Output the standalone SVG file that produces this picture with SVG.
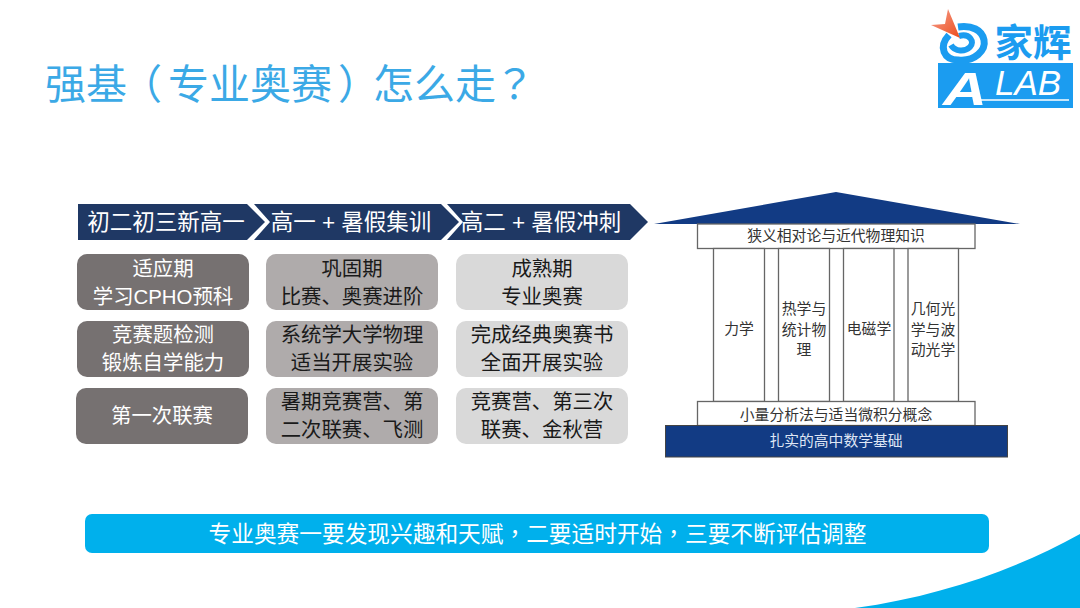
<svg xmlns="http://www.w3.org/2000/svg" width="1080" height="608" viewBox="0 0 1080 608">
<defs><linearGradient id="dart" x1="0" y1="0" x2="1" y2="1"><stop offset="0" stop-color="#f4a090"/><stop offset="1" stop-color="#ee4e1c"/></linearGradient></defs>
<style>
text{font-family:"Liberation Sans","Noto Sans CJK SC",sans-serif;text-anchor:middle}
.t{font-family:"Noto Sans CJK TC",sans-serif}
.h{font-size:22.500px;fill:#fff}
.b{font-size:20.400px}
.w{fill:#fff}.k{fill:#1a1a1a}
.d{fill:#767171}.m{fill:#afabab}.l{fill:#d9d9d9}
.s{font-size:14.800px;fill:#333}
.p{fill:#fff;stroke:#666;stroke-width:1.3}
.sw{fill:none;stroke:#1b9cf0}
</style>
<rect width="1080" height="608" fill="#fff"/>
<path d="M855 608C940 596 1015 570 1080 534V608Z" fill="#00b0ec"/>
<text x="45" y="99" style="font-size:41px;fill:#3ba9e6;text-anchor:start">强基<tspan class="t" dx="-6">（</tspan><tspan dx="6">专业奥赛</tspan><tspan class="t" dx="6">）</tspan><tspan dx="-6">怎么走</tspan><tspan class="t" dx="-2">？</tspan></text>
<g id="logo">
<path class="sw" stroke-width="7" d="M949 35C938 47 944 60 958 60C975 62 986 50 984 40C982 30 972 25 958 27"/>
<path class="sw" stroke-width="6" d="M959 36C970 33 975 42 970 47C965 52 955 52 951 45"/>
<path d="M948 9L960 38L931 25L945 24Z" fill="url(#dart)"/>
<rect x="938" y="63" width="135" height="45" fill="#1b9cf0"/>
<text x="1033" y="56" style="font-size:38px;fill:#1b9cf0;font-weight:700" textLength="77" lengthAdjust="spacingAndGlyphs">家辉</text>
<text x="965" y="105" style="font-size:47px;fill:#fff;font-style:italic;font-weight:700" textLength="44" lengthAdjust="spacingAndGlyphs">A</text>
<text x="1028" y="95" style="font-size:35px;fill:#fff;font-style:italic">LAB</text>
<path d="M975 100H1069" stroke="#fff" stroke-width="1.500"/>
</g>
<g id="arrows" fill="#1f3864">
<g id="a1"><path d="M78 204H247L265 222L247 240H78Z"/><text class="h" x="166" y="230">初二初三新高一</text></g>
<g id="a2"><path d="M254 204H441L459 222L441 240H254L270 222Z"/><text class="h" x="351" y="230">高一 + 暑假集训</text></g>
<g id="a3"><path d="M447 204H630L648 222L630 240H447L463 222Z"/><text class="h" x="541" y="230">高二 + 暑假冲刺</text></g>
</g>
<g id="c1-1"><rect class="d" x="77" y="254" width="172" height="56" rx="10"/><text class="b w" x="163" y="276">适应期</text><text class="b w" x="163" y="304">学习CPHO预科</text></g>
<g id="c1-2"><rect class="d" x="77" y="321" width="172" height="56" rx="10"/><text class="b w" x="163" y="342">竞赛题检测</text><text class="b w" x="163" y="370">锻炼自学能力</text></g>
<g id="c1-3"><rect class="d" x="76" y="388" width="172" height="56" rx="10"/><text class="b w" x="162" y="423">第一次联赛</text></g>
<g id="c2-1"><rect class="m" x="266" y="254" width="172" height="56" rx="10"/><text class="b k" x="352" y="276">巩固期</text><text class="b k" x="352" y="304">比赛、奥赛进阶</text></g>
<g id="c2-2"><rect class="m" x="266" y="321" width="172" height="56" rx="10"/><text class="b k" x="352" y="342">系统学大学物理</text><text class="b k" x="352" y="370">适当开展实验</text></g>
<g id="c2-3"><rect class="m" x="266" y="388" width="172" height="56" rx="10"/><text class="b k" x="352" y="409">暑期竞赛营、第</text><text class="b k" x="352" y="437">二次联赛、飞测</text></g>
<g id="c3-1"><rect class="l" x="456" y="254" width="172" height="56" rx="10"/><text class="b k" x="542" y="276">成熟期</text><text class="b k" x="542" y="304">专业奥赛</text></g>
<g id="c3-2"><rect class="l" x="456" y="321" width="172" height="56" rx="10"/><text class="b k" x="542" y="342">完成经典奥赛书</text><text class="b k" x="542" y="370">全面开展实验</text></g>
<g id="c3-3"><rect class="l" x="456" y="388" width="172" height="56" rx="10"/><text class="b k" x="542" y="409">竞赛营、第三次</text><text class="b k" x="542" y="437">联赛、金秋营</text></g>
<g id="house">
<path id="roof" d="M654 224L836 192L1020 224Z" fill="#123b84"/>
<g id="top"><rect class="p" x="697.500" y="224" width="277.500" height="24.500"/><text class="s" x="836" y="241">狭义相对论与近代物理知识</text></g>
<g id="pillars">
<rect class="p" x="713.500" y="248.500" width="51" height="153"/>
<rect class="p" x="778.500" y="248.500" width="51" height="153"/>
<rect class="p" x="843.500" y="248.500" width="50.500" height="153"/>
<rect class="p" x="908" y="248.500" width="50.500" height="153"/>
<text class="s" x="739" y="334">力学</text>
<text class="s" x="804" y="314">热学与</text><text class="s" x="804" y="335">统计物</text><text class="s" x="804" y="355">理</text>
<text class="s" x="869" y="334">电磁学</text>
<text class="s" x="933" y="314">几何光</text><text class="s" x="933" y="335">学与波</text><text class="s" x="933" y="355">动光学</text>
</g>
<g id="mid"><rect class="p" x="697.500" y="401.500" width="277.500" height="24"/><text class="s" x="836" y="420">小量分析法与适当微积分概念</text></g>
<g id="base"><rect x="665.500" y="425.500" width="342" height="31.500" fill="#123b84" stroke="#444" stroke-width="1"/><text x="836" y="446" style="font-size:14.800px;fill:#dfe6f5">扎实的高中数学基础</text></g>
</g>
<g id="banner"><rect x="85" y="514" width="904" height="39" rx="7" fill="#00b0ec"/><text x="537.500" y="542" style="font-size:22.700px;fill:#fff">专业奥赛一要发现兴趣和天赋<tspan class="t">，</tspan>二要适时开始<tspan class="t">，</tspan>三要不断评估调整</text></g>
</svg>
